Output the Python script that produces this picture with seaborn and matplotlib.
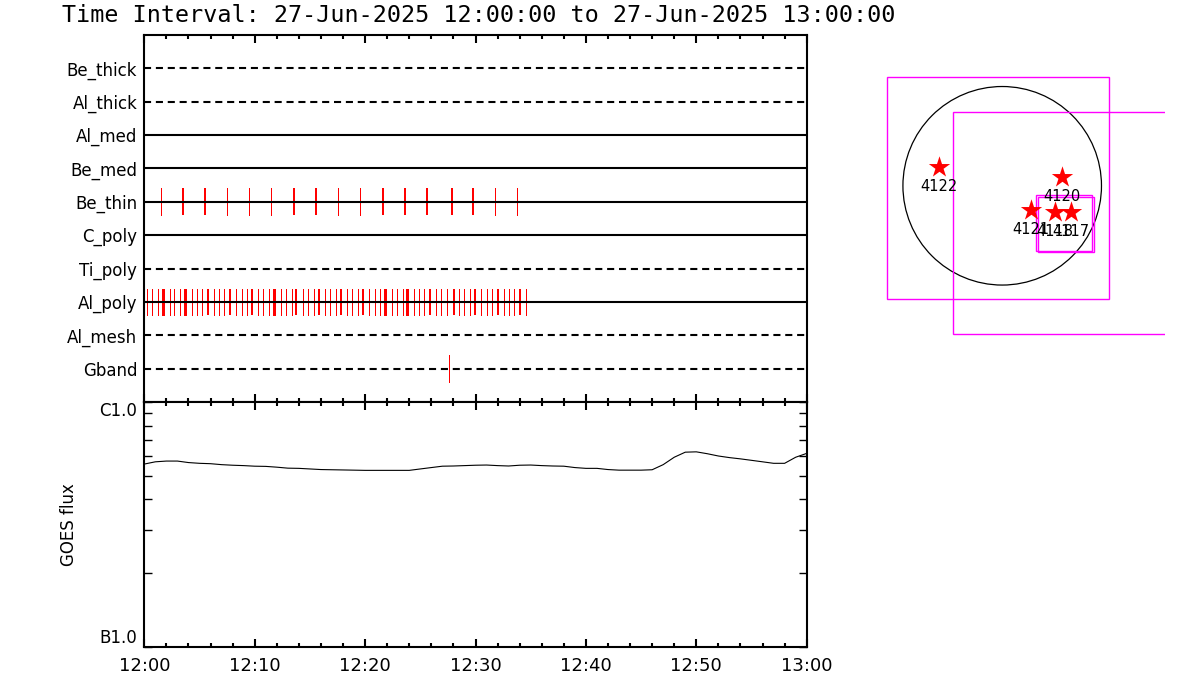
import numpy as np
import pandas as pd
import matplotlib
matplotlib.use("Agg")
import matplotlib.pyplot as plt
import seaborn as sns
from matplotlib.ticker import FixedLocator, MultipleLocator, NullFormatter, FixedFormatter
from matplotlib.patches import Circle, Rectangle

# ---------------- data ----------------
title = "Time Interval: 27-Jun-2025 12:00:00 to 27-Jun-2025 13:00:00"
detectors = ["Be_thick", "Al_thick", "Al_med", "Be_med", "Be_thin",
             "C_poly", "Ti_poly", "Al_poly", "Al_mesh", "Gband"]
detector_inactive = [True, True, False, False, False, False, True, False, True, True]

# event times (minutes after 12:00) and relative weights
be_thin_t = [1.48, 3.48, 5.47, 7.52, 9.51, 11.50, 13.53, 15.52, 17.57, 19.57,
             21.59, 23.58, 25.58, 27.87, 29.74, 31.80, 33.79]
be_thin_w = [1, 2, 2, 1, 1, 1, 2, 2, 1, 1, 2, 2, 2, 2, 2, 1, 1]

al_poly_t = [0.27, 0.70, 1.27, 1.72, 2.30, 2.72, 3.23, 3.72, 4.29, 4.80,
             5.23, 5.74, 6.31, 6.77, 7.25, 7.76, 8.34, 8.82, 9.33, 9.76,
             10.33, 10.78, 11.32, 11.78, 12.35, 12.83, 13.35, 13.74, 14.34, 14.83,
             15.34, 15.82, 16.37, 16.82, 17.33, 17.79, 18.39, 18.84, 19.36, 19.81,
             20.38, 20.87, 21.35, 21.83, 22.41, 22.86, 23.40, 23.83, 24.43, 24.91,
             25.37, 25.85, 26.42, 26.91, 27.39, 28.02, 28.54, 28.96, 29.47, 29.98,
             30.53, 31.01, 31.52, 32.01, 32.55, 33.03, 33.52, 34.03, 34.54]
al_poly_w = [1, 1, 1, 3, 1, 1, 1, 3, 1, 1, 1, 2, 1, 1, 1, 2, 1, 1, 1, 2,
             1, 1, 1, 3, 1, 1, 1, 2, 1, 1, 1, 2, 1, 1, 1, 2, 1, 1, 1, 2,
             1, 1, 1, 3, 1, 1, 1, 3, 1, 1, 1, 2, 1, 1, 1, 2, 1, 1, 1, 2,
             1, 1, 1, 2, 1, 1, 1, 2, 1]

gband_t = [27.64]
gband_w = [1]

events = {"Be_thin": (be_thin_t, be_thin_w),
          "Al_poly": (al_poly_t, al_poly_w),
          "Gband": (gband_t, gband_w)}

# GOES flux (W/m^2), one value per minute
goes_t = list(range(0, 61))
goes_flux = [5.58, 5.70, 5.74, 5.74, 5.66, 5.62, 5.60, 5.55, 5.52, 5.50,
             5.47, 5.46, 5.42, 5.37, 5.36, 5.33, 5.30, 5.29, 5.28, 5.27,
             5.26, 5.26, 5.26, 5.26, 5.26, 5.33, 5.40, 5.47, 5.48, 5.50,
             5.52, 5.53, 5.50, 5.48, 5.52, 5.53, 5.50, 5.48, 5.47, 5.40,
             5.36, 5.36, 5.30, 5.27, 5.27, 5.27, 5.29, 5.55, 5.95, 6.24,
             6.26, 6.15, 6.02, 5.93, 5.86, 5.78, 5.70, 5.62, 5.62, 5.95, 6.17]
goes_flux = [v * 1e-7 for v in goes_flux]

time_labels = ["12:00", "12:10", "12:20", "12:30", "12:40", "12:50", "13:00"]
flux_labels = ["B1.0", "C1.0"]
flux_levels = [1e-7, 1e-6]

# solar map (arcsec)
sun_radius = 944.0
fov_boxes = [(-1093, -1079, 2110, 2110), (-465, -1412, 2110, 2110),
             (324, -620, 533, 530), (340, -632, 536, 528)]
regions = ["4122", "4120", "4121", "4118", "4117"]
region_x = [-601, 566, 274, 502, 654]
region_y = [182, 87, -230, -246, -246]

# ---------------- style ----------------
sns.set_style("ticks")
plt.rcParams["font.family"] = ["DejaVu Sans"]
plt.rcParams["axes.linewidth"] = 1.5
plt.rcParams["axes.edgecolor"] = "black"
plt.rcParams["text.color"] = "black"
plt.rcParams["axes.labelcolor"] = "black"
plt.rcParams["xtick.color"] = "black"
plt.rcParams["ytick.color"] = "black"

fig = plt.figure(figsize=(12, 7), dpi=100)
W, H = 1200.0, 700.0
x0, x1 = 144.3, 806.7


def fax(left, top, right, bottom):
    return fig.add_axes([left / W, 1 - bottom / H, (right - left) / W, (bottom - top) / H])


ax1 = fax(x0, 35, x1, 402)
ax2 = fax(x0, 402, x1, 647)

n = len(detectors)
ypos = {d: n - 1 - i for i, d in enumerate(detectors)}

# top panel: detector rows
for d, inactive in zip(detectors, detector_inactive):
    y = ypos[d]
    ls = (0, (3.4, 2.3)) if inactive else "-"
    ax1.hlines(y, 0, 60, colors="black", linewidth=1.5, linestyles=ls, zorder=3)
    if d in events:
        t, w = events[d]
        ax1.vlines(t, y - 0.4, y + 0.4, colors="#ff0000",
                   linewidth=[0.7 * k - 0.15 for k in w], antialiaseds=False, zorder=2)

ax1.set_xlim(0, 60)
ax1.set_ylim(-1, n)
ax1.set_yticks([ypos[d] for d in detectors])
ax1.set_yticklabels(detectors, fontsize=12)
ax1.tick_params(axis="y", length=0, pad=5)
ax1.xaxis.set_major_locator(MultipleLocator(10))
ax1.xaxis.set_minor_locator(MultipleLocator(2))
ax1.tick_params(axis="x", which="both", direction="in", top=True, bottom=True,
                labelbottom=False, width=1.5)
ax1.tick_params(axis="x", which="major", length=6)
ax1.tick_params(axis="x", which="minor", length=3)
for s in ax1.spines.values():
    s.set_visible(True)

# bottom panel: GOES flux
df = pd.DataFrame({"t": goes_t, "flux": goes_flux})
sns.lineplot(data=df, x="t", y="flux", ax=ax2, color="black", linewidth=0.8)
ax2.set_yscale("log")
ax2.set_ylim(flux_levels[0], flux_levels[1])
ax2.set_xlim(0, 60)
ax2.yaxis.set_major_locator(FixedLocator(flux_levels))
ax2.yaxis.set_major_formatter(FixedFormatter(flux_labels))
ax2.yaxis.set_minor_locator(FixedLocator([k * 1e-7 for k in range(2, 10)]))
ax2.yaxis.set_minor_formatter(NullFormatter())
ax2.xaxis.set_major_locator(FixedLocator([0, 10, 20, 30, 40, 50, 60]))
ax2.xaxis.set_major_formatter(FixedFormatter(time_labels))
ax2.xaxis.set_minor_locator(MultipleLocator(2))
ax2.tick_params(axis="x", which="both", direction="in", top=True, bottom=True, width=1.5)
ax2.tick_params(axis="x", which="major", length=6, labelsize=13, pad=7)
ax2.tick_params(axis="x", which="minor", length=3)
ax2.tick_params(axis="y", which="both", direction="in", left=True, right=True, width=1.0)
ax2.tick_params(axis="y", which="major", length=6, labelsize=12, pad=5)
ax2.tick_params(axis="y", which="minor", length=5.5)
ax2.set_xlabel("")
ax2.set_ylabel("GOES flux", fontsize=12)
ax2.yaxis.set_label_coords(-0.100, 0.5)
for s in ax2.spines.values():
    s.set_visible(True)
ymaj = ax2.yaxis.get_major_ticks()
ymaj[0].label1.set_verticalalignment("bottom")
ymaj[1].label1.set_verticalalignment("top")

fig.text(62 / W, 1 - 22 / H, title, fontsize=16.8, va="baseline", ha="left",
         family=["DejaVu Sans Mono"])

# right panel: solar map
ax3 = fax(880, 70, 1165, 345)
ax3.set_xlim(-1162, 1548)
ax3.set_ylim(-1514, 1101)
ax3.axis("off")
ax3.add_patch(Circle((0, 0), sun_radius, fill=False, edgecolor="black", linewidth=0.9))
for (bx, by, bw, bh) in fov_boxes:
    ax3.add_patch(Rectangle((bx, by), bw, bh, fill=False, edgecolor="#ff00ff", linewidth=1.0))
sns.scatterplot(x=region_x, y=region_y, ax=ax3, marker="*", s=260, color="#ff0000",
                edgecolor="#ff0000", linewidth=0, zorder=4)
for name, rx, ry in zip(regions, region_x, region_y):
    ax3.text(rx, ry - 185, name, fontsize=10.5, ha="center", va="center", color="black", zorder=5)

fig.savefig("out.png", dpi=100)
